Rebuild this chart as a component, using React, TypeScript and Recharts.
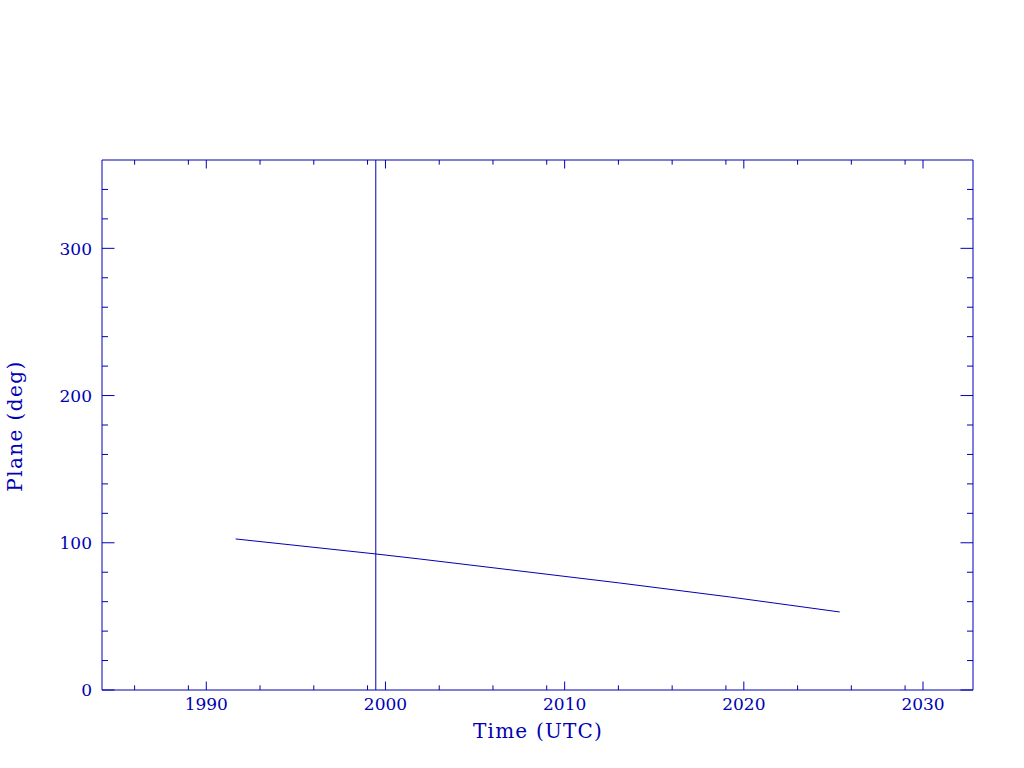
import React from "react";
import { LineChart, Line, XAxis, YAxis, ReferenceLine } from "recharts";

// ---- data ----
const lineYears = [1991.64, 1999.46, 2001.91, 2013.07, 2019.21, 2025.35];
const lineValues = [102.6, 92.4, 89.0, 72.7, 63.2, 53.0];
const markerYear = 1999.46;

const xDomain: [number, number] = [1984.18, 2032.79];
const yDomain: [number, number] = [0, 360];
const xMajorTicks = [1990, 2000, 2010, 2020, 2030];
const xMinorTicks = [1986, 1989, 1993, 1996, 1999, 2003, 2006, 2009, 2013, 2016, 2019, 2023, 2026, 2029];
const yMajorTicks = [0, 100, 200, 300];
const yMinorTicks = [20, 40, 60, 80, 120, 140, 160, 180, 220, 240, 260, 280, 320, 340];

const xTitle = "Time (UTC)";
const yTitle = "Plane (deg)";

const data = lineYears.map((t, i) => ({ t, v: lineValues[i] }));
const xTicks = [...xMajorTicks, ...xMinorTicks].sort((a, b) => a - b);
const yTicks = [...yMajorTicks, ...yMinorTicks].sort((a, b) => a - b);

const C = "#0000b4";
const FONT = "'DejaVu Serif', serif";

const isMajorX = (v: number) => xMajorTicks.includes(v);
const isMajorY = (v: number) => yMajorTicks.includes(v);

const BottomTick = (p: any) => {
  const { x, y, payload } = p;
  const major = isMajorX(payload.value);
  return (
    <g>
      <line x1={x} x2={x} y1={y} y2={y - (major ? 8.5 : 4.7)} stroke={C} strokeWidth={1} />
      {major && (
        <text x={x} y={y + 20} textAnchor="middle" fill={C} fontFamily={FONT} fontSize={17}>
          {payload.value}
        </text>
      )}
    </g>
  );
};

const TopTick = (p: any) => {
  const { x, y, payload } = p;
  const major = isMajorX(payload.value);
  return <line x1={x} x2={x} y1={y} y2={y + (major ? 8.5 : 4.7)} stroke={C} strokeWidth={1} />;
};

const LeftTick = (p: any) => {
  const { x, y, payload } = p;
  const major = isMajorY(payload.value);
  return (
    <g>
      <line x1={x} x2={x + (major ? 12.5 : 6)} y1={y} y2={y} stroke={C} strokeWidth={1} />
      {major && (
        <text x={x - 10} y={y + 6.2} textAnchor="end" fill={C} fontFamily={FONT} fontSize={17}>
          {payload.value}
        </text>
      )}
    </g>
  );
};

const RightTick = (p: any) => {
  const { x, y, payload } = p;
  const major = isMajorY(payload.value);
  return <line x1={x} x2={x - (major ? 12.5 : 6)} y1={y} y2={y} stroke={C} strokeWidth={1} />;
};

export default function App() {
  return (
    <div style={{ position: "absolute", left: 0, top: 0, width: 1024, height: 768, background: "#fff" }}>
      <LineChart
        width={1024}
        height={768}
        data={data}
        margin={{ top: 159, left: 101, right: 50, bottom: 77 }}
      >
        <XAxis
          xAxisId="bottom"
          dataKey="t"
          type="number"
          domain={xDomain}
          allowDataOverflow
          ticks={xTicks}
          interval={0}
          height={1}
          tickSize={0}
          tickMargin={0}
          tickLine={false}
          axisLine={{ stroke: C, strokeWidth: 1 }}
          tick={<BottomTick />}
        />
        <XAxis
          xAxisId="top"
          orientation="top"
          dataKey="t"
          type="number"
          domain={xDomain}
          allowDataOverflow
          ticks={xTicks}
          interval={0}
          height={1}
          tickSize={0}
          tickMargin={0}
          tickLine={false}
          axisLine={{ stroke: C, strokeWidth: 1 }}
          tick={<TopTick />}
        />
        <YAxis
          yAxisId="left"
          type="number"
          domain={yDomain}
          allowDataOverflow
          ticks={yTicks}
          interval={0}
          width={1}
          tickSize={0}
          tickMargin={0}
          tickLine={false}
          axisLine={{ stroke: C, strokeWidth: 1 }}
          tick={<LeftTick />}
        />
        <YAxis
          yAxisId="right"
          orientation="right"
          type="number"
          domain={yDomain}
          allowDataOverflow
          ticks={yTicks}
          interval={0}
          width={1}
          tickSize={0}
          tickMargin={0}
          tickLine={false}
          axisLine={{ stroke: C, strokeWidth: 1 }}
          tick={<RightTick />}
        />
        <ReferenceLine xAxisId="bottom" yAxisId="left" x={markerYear} stroke={C} strokeWidth={1} />
        <Line
          xAxisId="bottom"
          yAxisId="left"
          dataKey="v"
          type="linear"
          stroke={C}
          strokeWidth={1}
          dot={false}
          isAnimationActive={false}
        />
      </LineChart>
      <svg
        width={1024}
        height={768}
        style={{ position: "absolute", left: 0, top: 0, pointerEvents: "none" }}
      >
        <text x={538} y={738} textAnchor="middle" fill={C} fontFamily={FONT} fontSize={20} letterSpacing={1.2}>
          {xTitle}
        </text>
        <text
          x={0}
          y={0}
          transform="translate(21.5,426) rotate(-90)"
          textAnchor="middle"
          fill={C}
          fontFamily={FONT}
          fontSize={20}
          letterSpacing={1.4}
        >
          {yTitle}
        </text>
      </svg>
    </div>
  );
}
